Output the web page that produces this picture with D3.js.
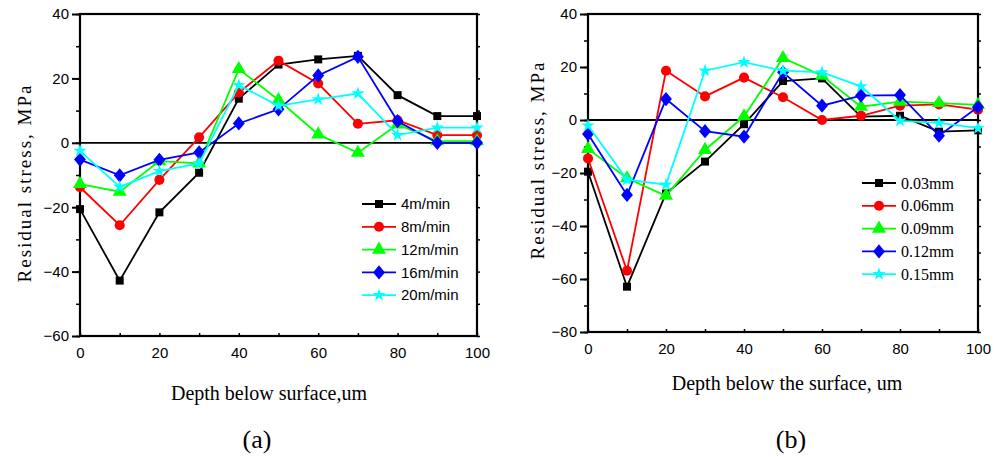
<!DOCTYPE html>
<html><head><meta charset="utf-8">
<script src="https://cdn.jsdelivr.net/npm/d3@7"></script>
<style>body{margin:0;background:#fff}svg{display:block}</style>
</head><body><svg id="c" width="1003" height="457"></svg>
<script>
const depth = [0,10,20,30,40,50,60,70,80,90,100];
// Panel (a)
const namesA = ["4m/min","8m/min","12m/min","16m/min","20m/min"];
const v4  = [-20.6,-42.8,-21.6,-9.3,13.7,24.3,25.9,27.0,14.8,8.3,8.3];
const v8  = [-13.8,-25.6,-11.5,1.7,15.6,25.5,18.4,5.9,7.0,2.4,2.4];
const v12 = [-12.8,-15.2,-5.7,-6.4,22.9,13.3,2.6,-3.1,5.7,0.5,0.5];
const v16 = [-5.2,-10.1,-5.3,-3.0,6.0,10.4,20.9,26.7,6.7,0.0,0.0];
const v20 = [-2.5,-13.7,-8.8,-6.4,17.9,11.5,13.5,15.3,2.4,4.7,4.7];
// Panel (b)
const namesB = ["0.03mm","0.06mm","0.09mm","0.12mm","0.15mm"];
const d03 = [-19.5,-62.9,-27.7,-15.7,-1.6,14.7,15.7,1.3,1.6,-4.4,-3.9];
const d06 = [-14.5,-56.9,18.6,8.9,16.0,8.6,0.0,1.6,5.4,5.9,3.9];
const d09 = [-10.9,-22.0,-28.6,-11.3,1.4,23.4,16.7,5.0,6.9,6.4,5.7];
const d12 = [-5.3,-28.3,7.9,-4.2,-6.3,18.0,5.4,9.2,9.4,-5.9,4.9];
const d15 = [-2.1,-22.5,-24.4,18.6,21.8,18.6,18.0,12.7,-0.3,-1.1,-3.1];
const xTicks = [0,20,40,60,80,100];
const yTicksA = [-60,-40,-20,0,20,40];
const yTicksB = [-80,-60,-40,-20,0,20,40];

const colors = ["#000000","#ff0000","#00ff00","#0000ff","#00ffff"];
const shapes = [d3.symbolSquare, d3.symbolCircle, d3.symbolTriangle, d3.symbolDiamond2, d3.symbolStar];
const sizes = [64, 80, 85, 90, 55];

const svg = d3.select("#c");
const SANS = "'Liberation Sans', Arial, sans-serif";
const SERIF = "'Liberation Serif', 'Times New Roman', serif";

function panel(cfg){
  const {x0,x1,y0,y1,ydom,yt,series,names,label,xtitle,xtc,ytc,ytitle,lab,legX,legY,legStep,legFont,legSize} = cfg;
  const x = d3.scaleLinear().domain([0,100]).range([x0,x1]);
  const y = d3.scaleLinear().domain(ydom).range([y1,y0]);
  const g = svg.append("g");
  const yMinor = d3.range(ydom[0], ydom[1]+1, 10);
  g.append("g").attr("transform",`translate(${x0},0)`)
    .call(d3.axisLeft(y).tickValues(yMinor).tickSize(4).tickFormat(""))
    .call(a=>a.select(".domain").remove())
    .call(a=>a.selectAll("line").attr("stroke-width",1.5));
  g.append("g").attr("transform",`translate(${x0},0)`)
    .call(d3.axisLeft(y).tickValues(yt).tickSize(8).tickPadding(3).tickFormat(d3.format("d")))
    .call(a=>a.select(".domain").remove())
    .call(a=>a.selectAll("line").attr("stroke-width",2))
    .call(a=>a.selectAll("text").attr("font-family",SANS).attr("font-size",15).attr("fill","#000"));
  g.append("g").attr("transform",`translate(${x1},0)`)
    .call(d3.axisRight(y).tickValues(yMinor).tickSize(3).tickFormat(""))
    .call(a=>a.select(".domain").remove())
    .call(a=>a.selectAll("line").attr("stroke-width",1.5));
  g.append("g").attr("transform",`translate(0,${y1})`)
    .call(d3.axisTop(x).tickValues(d3.range(0,101,10)).tickSize(3).tickFormat(""))
    .call(a=>a.select(".domain").remove())
    .call(a=>a.selectAll("line").attr("stroke-width",1.5));
  g.append("g").attr("transform",`translate(0,${y1})`)
    .call(d3.axisBottom(x).tickValues(xTicks).tickSize(0).tickPadding(11))
    .call(a=>a.select(".domain").remove())
    .call(a=>a.selectAll("text").attr("font-family",SANS).attr("font-size",15).attr("fill","#000"));
  g.append("rect").attr("x",x0).attr("y",y0).attr("width",x1-x0).attr("height",y1-y0)
    .attr("fill","none").attr("stroke","#000").attr("stroke-width",2.2);
  g.append("line").attr("x1",x0).attr("x2",x1).attr("y1",y(0)).attr("y2",y(0))
    .attr("stroke","#000").attr("stroke-width",1.8);
  const line = d3.line().x((d,i)=>x(depth[i])).y(d=>y(d));
  series.forEach((s,k)=>{
    g.append("path").datum(s).attr("d",line).attr("fill","none")
      .attr("stroke",colors[k]).attr("stroke-width",1.8);
    g.selectAll(null).data(s).enter().append("path")
      .attr("d",d3.symbol().type(shapes[k]).size(sizes[k]))
      .attr("transform",(d,i)=>`translate(${x(depth[i])},${y(d)})`+(k===3?" scale(1,1.2)":""))
      .attr("fill",colors[k]);
  });
  names.forEach((n,k)=>{
    const ly = legY + k*legStep;
    g.append("line").attr("x1",legX).attr("x2",legX+34).attr("y1",ly).attr("y2",ly)
      .attr("stroke",colors[k]).attr("stroke-width",1.8);
    g.append("path").attr("d",d3.symbol().type(shapes[k]).size(sizes[k]))
      .attr("transform",`translate(${legX+17},${ly})`+(k===3?" scale(1,1.2)":"")).attr("fill",colors[k]);
    g.append("text").attr("x",legX+39).attr("y",ly).attr("dy","0.35em")
      .attr("font-family",legFont).attr("font-size",legSize).text(n);
  });
  svg.append("text").attr("x",xtc[0]).attr("y",xtc[1]).attr("text-anchor","middle").attr("dy","0.35em")
    .attr("font-family",SERIF).attr("font-size",20).text(xtitle);
  svg.append("text").attr("transform",`translate(${ytc[0]},${ytc[1]}) rotate(-90)`).attr("text-anchor","middle").attr("dy","0.35em")
    .attr("font-family",SERIF).attr("font-size",19)
    .attr("letter-spacing",ytitle.ls).text(ytitle.t);
  svg.append("text").attr("x",lab[0]).attr("y",lab[1]).attr("text-anchor","middle").attr("dy","0.35em")
    .attr("font-family",SERIF).attr("font-size",26).text(label);
}

panel({x0:80,x1:477,y0:14,y1:336,ydom:[-60,40],yt:yTicksA,series:[v4,v8,v12,v16,v20],names:namesA,
  label:"(a)",xtitle:"Depth below surface,um",xtc:[269,393],ytc:[24,183],ytitle:{t:"Residual stress, MPa",ls:2},
  lab:[257,439],legX:362,legY:204,legStep:22.8,legFont:SANS,legSize:15});
panel({x0:588,x1:978,y0:14,y1:332,ydom:[-80,40],yt:yTicksB,series:[d03,d06,d09,d12,d15],names:namesB,
  label:"(b)",xtitle:"Depth below the surface, um",xtc:[787,383],ytc:[537,160],ytitle:{t:"Residual stress, MPa",ls:2},
  lab:[791,439],legX:862,legY:183,legStep:22.8,legFont:SERIF,legSize:16});
</script></body></html>
